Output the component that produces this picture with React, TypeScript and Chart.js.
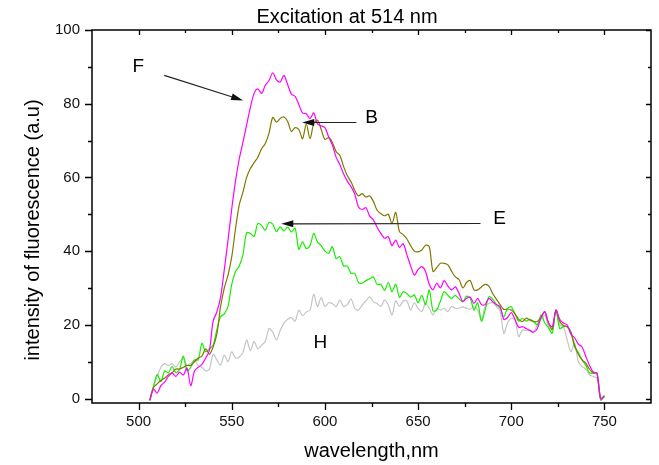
import React, { useEffect, useRef } from 'react';
import { Chart, registerables } from 'chart.js';

Chart.register(...registerables);

const wavelengths = [
  506, 508, 510, 512, 514, 516, 518, 520, 522, 524,
  526, 528, 530, 532, 534, 536, 538, 540, 542, 544,
  546, 548, 550, 552, 554, 556, 558, 560, 562, 564,
  566, 568, 570, 572, 574, 576, 578, 580, 582, 584,
  586, 588, 590, 592, 594, 596, 598, 600, 602, 604,
  606, 608, 610, 612, 614, 616, 618, 620, 622, 624,
  626, 628, 630, 632, 634, 636, 638, 640, 642, 644,
  646, 648, 650, 652, 654, 656, 658, 660, 662, 664,
  666, 668, 670, 672, 674, 676, 678, 680, 682, 684,
  686, 688, 690, 692, 694, 696, 698, 700, 702, 704,
  706, 708, 710, 712, 714, 716, 718, 720, 722, 724,
  726, 728, 730, 732, 734, 736, 738, 740, 742, 744,
  746, 748, 750,
];

const seriesF = [
  -0.5, 2.5, 1.5, 3.5, 4.5, 6, 7, 6, 7.2, 6.4,
  8.3, 3.5, 7.5, 8.5, 9.3, 11, 13, 21, 23.5, 27.5,
  35, 43, 51.5, 59, 65, 69.5, 74.3, 79, 82.8, 84,
  82.8, 85, 86.3, 88.4, 86.5, 85.9, 87.7, 85.2, 82.6, 82,
  79.8, 77.5, 77.3, 76, 77.5, 74.5, 74, 73.5, 71, 68.8,
  65.5, 63.5, 61, 59, 57.5, 55.5, 52, 51.3, 51.8, 49.5,
  48.5, 46.5, 44.8, 43.5, 43.9, 41.5, 43, 41, 42, 39,
  36, 33.5, 35, 35.8, 34.5, 31, 29.5, 31.3, 30, 32,
  30.5, 29.5, 30.3, 28.5, 26.3, 27.2, 27.5, 25.8, 27.2, 25.5,
  25.5, 27.2, 26.3, 25.5, 25, 21.5, 22, 23.3, 21.5, 19.3,
  19.5, 19, 18.5, 18, 19, 22, 23.5, 20.5, 19.5, 24,
  21.5, 20.5, 20, 17.5, 16.5, 14.8, 14, 11.5, 9, 7.2,
  6.9, 0, 0.5,
];

const seriesB = [
  -0.5, 3, 4, 5, 5.5, 6.5, 7, 8, 8, 8.5,
  9, 9, 10, 11, 11.5, 13.5, 12, 14, 17.5, 25,
  30, 33.5, 38.5, 46, 52.5, 56, 60, 62.4, 64, 65.5,
  67.8, 69.2, 72, 76.3, 75, 76, 76.4, 75.2, 72.5, 73.5,
  73, 70.5, 74.5, 70.5, 74.6, 75.5, 73, 70.3, 70.8, 69.5,
  67, 66, 63, 60.5, 58.8, 56.5, 55, 55.6, 54.7, 55,
  53.5, 51.1, 50.2, 49.6, 50, 47.5, 50.5, 45.3, 44.5, 43.3,
  41.5, 40, 39.8, 40.3, 41.6, 41.2, 34.5, 35.5, 36.7, 36.7,
  36.3, 34.5, 33, 32.3, 30, 31.5, 32, 29.5, 29.5, 30.3,
  31, 30.5, 28.5, 27, 25.5, 24.2, 24.3, 24, 23, 21.5,
  20.9, 21.8, 21.3, 20.9, 20.9, 22, 23.6, 20.5, 18.8, 24,
  21, 19.8, 19.5, 18, 14.5, 12, 10.5, 9.6, 8, 6.9,
  6.9, 0, 0.8,
];

const seriesE = [
  -0.5, 3.3, 6.5, 4.6, 7.5, 7, 8.7, 7, 8, 11.5,
  7.5, 8.5, 10.5, 10.5, 15, 12.7, 13.5, 14.5, 18.6, 22.2,
  23, 25, 31, 34.5, 36, 39, 45, 44.8, 44, 47.5,
  47, 45.7, 47.8, 47.3, 45.3, 46.6, 45.5, 46.5, 45.2, 46.2,
  40.5, 42.5, 40.7, 41.5, 44.8, 42.5, 41.5, 40, 39.4, 41.2,
  38, 38.5, 36, 36, 34, 34, 31.5, 31.3, 32, 32.5,
  33, 31, 31, 29.3, 31.5, 29, 31, 27.5, 29, 28.5,
  27.5, 28.1, 26, 28, 25.5, 29.5, 23.8, 24, 26.5, 29,
  28, 27.2, 28, 27, 26.3, 27.8, 27.2, 24, 26, 21,
  24, 27.6, 27, 25.5, 24.5, 22.2, 24.5, 24.9, 23, 21,
  21.8, 21, 21.5, 20.9, 20, 22.7, 20.5, 19.2, 17.7, 24,
  19, 19.5, 19.5, 18, 14, 12.5, 10.5, 9, 7, 6.9,
  6.9, -0.4, 0.8,
];

const seriesH = [
  0, 3.3, 6, 8.5, 9.5, 9, 9.5, 8.5, 10, 10.9,
  9, 9.5, 10.5, 9, 8.5, 7.5, 8, 12, 10.5, 9.1,
  11.8, 10, 12.7, 11, 11.3, 12.5, 15.9, 13, 15.5, 13.5,
  14.5, 15.5, 19, 18, 15.9, 18.5, 20.4, 21.5, 22, 21,
  24, 22.5, 23.5, 24, 28.3, 25, 27.4, 25, 26, 25.8,
  24.9, 26.7, 25, 25.5, 27, 24.5, 24, 25.4, 26.5, 27.6,
  26.3, 25.8, 25, 26.7, 25.4, 22.7, 26.5, 25, 26.5, 26.5,
  24, 26, 24.5, 23.6, 25.8, 24.5, 22.7, 24.5, 24, 24.5,
  23.6, 25, 24.5, 24.5, 24.9, 24.5, 24.3, 24.9, 24, 21.3,
  25, 25.8, 26, 25, 23.8, 17.7, 20.5, 21.8, 21.3, 16.8,
  18.6, 18.5, 18.5, 18.2, 20, 21.5, 22.5, 19.5, 18.6, 24,
  20, 19.5, 16, 12.7, 15, 10, 8.7, 8, 6.4, 6,
  5.5, -0.4, 0.5,
];

const xTickValues = [500, 550, 600, 650, 700, 750];
const xMinorValues = [525, 575, 625, 675, 725];
const yTickValues = [0, 20, 40, 60, 80, 100];
const yMinorValues = [10, 30, 50, 70, 90];

const titleText = 'Excitation at 514 nm';
const xTitleText = 'wavelength,nm';
const yTitleText = 'intensity of fluorescence (a.u)';

// annotation labels and arrows, in data coordinates
const labelNames = ['F', 'B', 'E', 'H'];
const labelX = [499.8, 625, 693.7, 597.6];
const labelY = [89.9, 76.3, 48.7, 15.1];
const arrowFrom = [[513.8, 87.7], [616.9, 74.9], [683.5, 47.5], null];
const arrowTo = [[556.1, 80.9], [587.8, 74.9], [576.6, 47.4], null];

const FONT = '"Liberation Sans", Arial, Helvetica, sans-serif';

function toPoints(values: number[]) {
  return wavelengths.map((w, i) => ({ x: w, y: values[i] }));
}

const decorPlugin = {
  id: 'decor',
  afterDraw(chart: any) {
    const ctx = chart.ctx as CanvasRenderingContext2D;
    const { left, right, top, bottom } = chart.chartArea;
    const xs = chart.scales.x;
    const ys = chart.scales.y;
    ctx.save();
    ctx.strokeStyle = '#000';
    ctx.lineWidth = 1.5;
    ctx.strokeRect(left, top, right - left, bottom - top);
    ctx.lineWidth = 1.3;
    ctx.beginPath();
    for (const v of xTickValues) {
      const p = Math.round(xs.getPixelForValue(v)) + 0.5;
      ctx.moveTo(p, bottom); ctx.lineTo(p, bottom + 7);
      ctx.moveTo(p, top); ctx.lineTo(p, top + 5);
    }
    for (const v of xMinorValues) {
      const p = Math.round(xs.getPixelForValue(v)) + 0.5;
      ctx.moveTo(p, bottom); ctx.lineTo(p, bottom + 4);
      ctx.moveTo(p, top); ctx.lineTo(p, top + 3);
    }
    for (const v of yTickValues) {
      const p = Math.round(ys.getPixelForValue(v)) + 0.5;
      ctx.moveTo(left, p); ctx.lineTo(left - 7, p);
      ctx.moveTo(right, p); ctx.lineTo(right - 5, p);
    }
    for (const v of yMinorValues) {
      const p = Math.round(ys.getPixelForValue(v)) + 0.5;
      ctx.moveTo(left, p); ctx.lineTo(left - 4, p);
      ctx.moveTo(right, p); ctx.lineTo(right - 3, p);
    }
    ctx.stroke();

    // titles
    ctx.fillStyle = '#000';
    ctx.font = `20px ${FONT}`;
    ctx.textAlign = 'center';
    ctx.textBaseline = 'middle';
    ctx.fillText(titleText, 347, 17);
    ctx.fillText(xTitleText, (left + right) / 2, 451);
    ctx.save();
    ctx.translate(33, 230);
    ctx.rotate(-Math.PI / 2);
    ctx.fillText(yTitleText, 0, 0);
    ctx.restore();

    // annotations
    ctx.font = `19px ${FONT}`;
    for (let i = 0; i < labelNames.length; i++) {
      ctx.fillText(labelNames[i], xs.getPixelForValue(labelX[i]), ys.getPixelForValue(labelY[i]));
      const f = arrowFrom[i];
      const t = arrowTo[i];
      if (f && t) {
        const x1 = xs.getPixelForValue(f[0]);
        const y1 = ys.getPixelForValue(f[1]);
        const x2 = xs.getPixelForValue(t[0]);
        const y2 = ys.getPixelForValue(t[1]);
        const ang = Math.atan2(y2 - y1, x2 - x1);
        const hl = 12;
        const hw = 3.5;
        ctx.strokeStyle = '#222';
        ctx.lineWidth = 1.2;
        ctx.beginPath();
        ctx.moveTo(x1, y1);
        ctx.lineTo(x2 - Math.cos(ang) * hl * 0.8, y2 - Math.sin(ang) * hl * 0.8);
        ctx.stroke();
        ctx.fillStyle = '#111';
        ctx.beginPath();
        ctx.moveTo(x2, y2);
        ctx.lineTo(x2 - Math.cos(ang) * hl - Math.sin(ang) * hw, y2 - Math.sin(ang) * hl + Math.cos(ang) * hw);
        ctx.lineTo(x2 - Math.cos(ang) * hl + Math.sin(ang) * hw, y2 - Math.sin(ang) * hl - Math.cos(ang) * hw);
        ctx.closePath();
        ctx.fill();
        ctx.fillStyle = '#000';
      }
    }
    ctx.restore();
  },
};

export default function App() {
  const canvasRef = useRef<HTMLCanvasElement | null>(null);

  useEffect(() => {
    document.body.style.margin = '0';
    const canvas = canvasRef.current;
    if (!canvas) return;
    const lineStyle = { pointRadius: 0, borderWidth: 1.2, tension: 0.3, fill: false };
    const chart = new Chart(canvas, {
      type: 'line',
      data: {
        datasets: [
          { label: 'F', data: toPoints(seriesF), borderColor: '#FF00FF', ...lineStyle },
          { label: 'B', data: toPoints(seriesB), borderColor: '#807800', ...lineStyle },
          { label: 'E', data: toPoints(seriesE), borderColor: '#19EE00', ...lineStyle },
          { label: 'H', data: toPoints(seriesH), borderColor: '#C4C4C4', ...lineStyle },
        ],
      },
      options: {
        animation: false,
        responsive: false,
        events: [],
        layout: { padding: { top: 30, right: 8, left: 0, bottom: 0 } },
        plugins: { legend: { display: false }, title: { display: false }, tooltip: { enabled: false } },
        scales: {
          x: {
            type: 'linear',
            min: 475,
            max: 775,
            grid: { display: false, drawTicks: false },
            border: { display: false },
            ticks: { color: '#111', font: { family: FONT, size: 15 }, padding: 10, maxRotation: 0 },
            afterBuildTicks: (axis: any) => { axis.ticks = xTickValues.map((v) => ({ value: v })); },
            afterFit: (axis: any) => { axis.height = 62; },
          },
          y: {
            type: 'linear',
            min: -1.2,
            max: 100,
            grid: { display: false, drawTicks: false },
            border: { display: false },
            ticks: { color: '#111', font: { family: FONT, size: 15 }, padding: 12 },
            afterBuildTicks: (axis: any) => { axis.ticks = yTickValues.map((v) => ({ value: v })); },
            afterFit: (axis: any) => { axis.width = 92; },
          },
        },
      },
      plugins: [decorPlugin],
    });
    return () => chart.destroy();
  }, []);

  return (
    <canvas ref={canvasRef} width={659} height={465} style={{ display: 'block', width: 659, height: 465 }} />
  );
}
